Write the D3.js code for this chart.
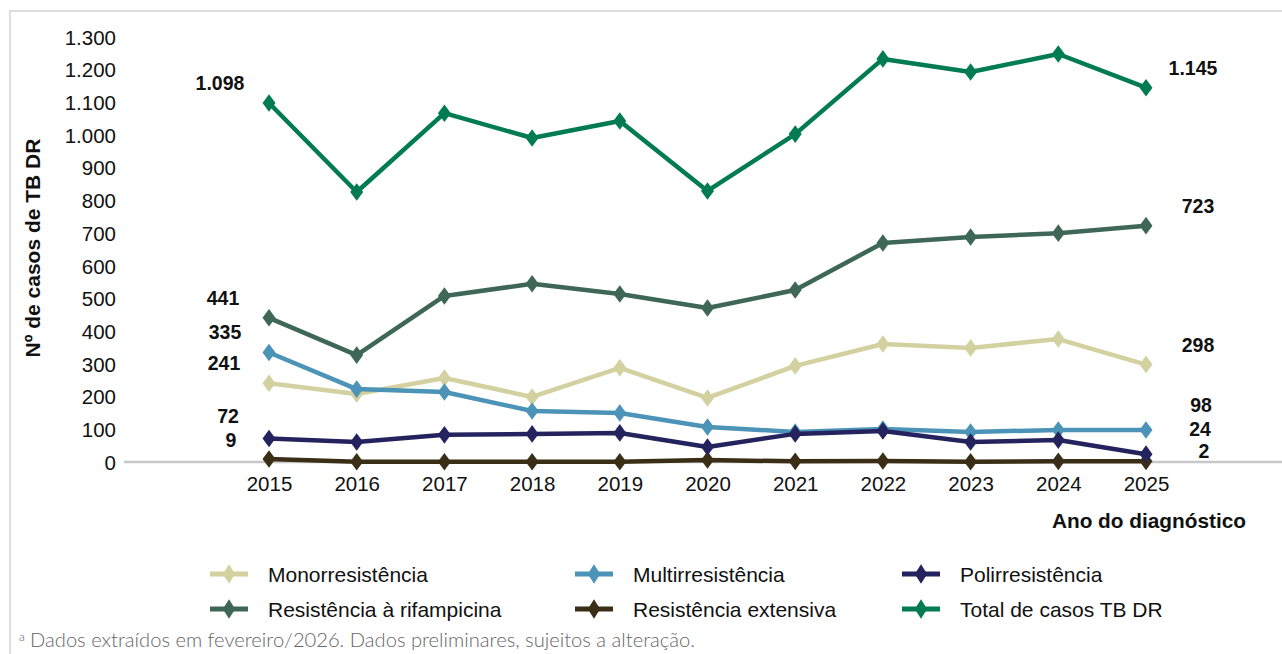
<!DOCTYPE html>
<html><head><meta charset="utf-8">
<script src="https://cdn.jsdelivr.net/npm/d3@7"></script>
<style>
html,body{margin:0;padding:0;background:#fff;}
svg{display:block;}
</style></head>
<body>
<script>
const years = [2015,2016,2017,2018,2019,2020,2021,2022,2023,2024,2025];
const yTicks = [0,100,200,300,400,500,600,700,800,900,1000,1100,1200,1300];
const seriesNames = ["Monorresistência","Multirresistência","Polirresistência","Resistência à rifampicina","Resistência extensiva","Total de casos TB DR"];
const mono = [241,208,257,199,288,196,294,361,349,376,298];
const multi = [335,223,214,156,150,107,92,101,92,98,98];
const poli = [72,61,83,86,89,46,86,95,61,67,24];
const rifa = [441,327,508,545,514,471,526,670,688,700,723];
const ext = [9,1,1,1,1,6,2,3,1,2,2];
const total = [1098,826,1067,991,1043,829,1003,1233,1193,1248,1145];
const colors = ["#d3d1a0","#4b93b7","#24235e","#3e6758","#3b2e17","#007b52"];
const firstLabels = ["1.098","441","335","241","72","9"];
const lastLabels = ["1.145","723","298","98","24","2"];

const W=1282,H=654;
const FF="Liberation Sans, Arial, sans-serif";
const svg=d3.select("body").append("svg").attr("width",W).attr("height",H);
svg.append("rect").attr("x",10).attr("y",11).attr("width",W).attr("height",H).attr("fill","#fff").attr("stroke","#dddddd").attr("stroke-width",2);

const x=d3.scalePoint().domain(years).range([269,1146]);
const y=d3.scaleLinear().domain([0,1300]).range([462,37]);
const fmt=d=>d3.format(",")(d).replace(/,/g,".");

const yAxis=d3.axisLeft(y).tickValues(yTicks).tickFormat(fmt).tickSize(0).tickPadding(0);
const gy=svg.append("g").attr("transform","translate(116,0)").call(yAxis);
gy.select(".domain").remove();
gy.selectAll("text").attr("font-family",FF).attr("font-size",20.5).attr("fill","#111").attr("dy","0.35em");

svg.append("line").attr("x1",124).attr("x2",W).attr("y1",y(0)).attr("y2",y(0)).attr("stroke","#c8c8c8").attr("stroke-width",2.5);

const xAxis=d3.axisBottom(x).tickSize(0).tickPadding(0);
const gx=svg.append("g").attr("transform","translate(0,476)").call(xAxis);
gx.select(".domain").remove();
gx.selectAll("text").attr("font-family",FF).attr("font-size",20.5).attr("fill","#111").attr("dy","0.71em");

svg.append("text").attr("x",1246).attr("y",528).attr("text-anchor","end").attr("font-family",FF).attr("font-weight","bold").attr("font-size",20.8).attr("fill","#111").text("Ano do diagnóstico");
svg.append("text").attr("transform","translate(40,248) rotate(-90)").attr("text-anchor","middle").attr("font-family",FF).attr("font-weight","bold").attr("font-size",21).attr("fill","#111").text("Nº de casos de TB DR");

const data=[mono,multi,poli,rifa,ext,total];
const line=d3.line().x((d,i)=>x(years[i])).y(d=>y(d));
const sym=d3.symbol().type(d3.symbolDiamond).size(110);
const order=[4,0,1,2,3,5];
order.forEach(k=>{
  const g=svg.append("g");
  g.append("path").attr("d",line(data[k])).attr("fill","none").attr("stroke",colors[k]).attr("stroke-width",4.5).attr("stroke-linejoin","round");
  g.selectAll("path.m").data(data[k]).enter().append("path").attr("class","m")
   .attr("d",sym).attr("transform",(d,i)=>`translate(${x(years[i])},${y(d)}) scale(1.15,0.9)`).attr("fill",colors[k]);
});

const lab=(t,xx,yy)=>svg.append("text").attr("x",xx).attr("y",yy).attr("text-anchor","middle").attr("dominant-baseline","central").attr("font-family",FF).attr("font-weight","bold").attr("font-size",19.5).attr("fill","#111").text(t);
const firstY=[83,298,332,363,416,440];
const firstX=[220,223,225,224,228,231];
firstLabels.forEach((t,i)=>lab(t,firstX[i],firstY[i]));
const lastY=[68,206,345,405,429,451];
const lastX=[1193,1198,1198,1201,1200,1204];
lastLabels.forEach((t,i)=>lab(t,lastX[i],lastY[i]));

const legX=[210,575,902], legY=[574,609];
[0,1,2,3,4,5].forEach((k,i)=>{
  const cx=legX[i%3], cy=legY[Math.floor(i/3)];
  svg.append("line").attr("x1",cx).attr("x2",cx+38).attr("y1",cy).attr("y2",cy).attr("stroke",colors[k]).attr("stroke-width",5);
  svg.append("path").attr("d",sym).attr("transform",`translate(${cx+19},${cy}) scale(1.1,1)`).attr("fill",colors[k]);
  svg.append("text").attr("x",cx+58).attr("y",cy).attr("dominant-baseline","central").attr("font-family",FF).attr("font-size",21).attr("fill","#111").text(seriesNames[k]);
});

svg.append("text").attr("x",19).attr("y",641).attr("font-family","Lato, 'Open Sans', sans-serif").attr("font-weight",300).attr("font-size",12).attr("fill","#666").text("a");
svg.append("text").attr("x",30).attr("y",647).attr("font-family","Lato, 'Open Sans', sans-serif").attr("font-weight",300).attr("font-size",19)
  .attr("textLength",665).attr("lengthAdjust","spacingAndGlyphs").attr("fill","#666")
  .text("Dados extraídos em fevereiro/2026. Dados preliminares, sujeitos a alteração.");
</script>
</body></html>
